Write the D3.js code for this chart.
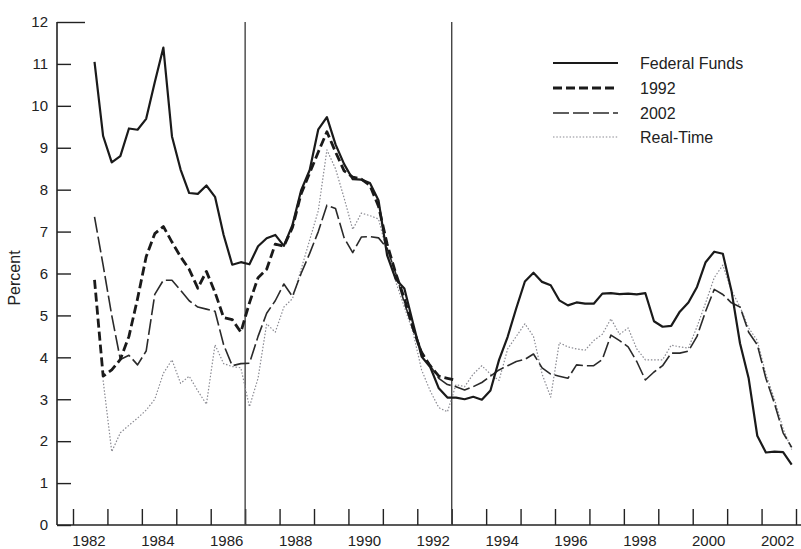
<!DOCTYPE html>
<html>
<head>
<meta charset="utf-8">
<script src="https://cdn.jsdelivr.net/npm/d3@7/dist/d3.min.js"></script>
<style>
  html, body { margin: 0; padding: 0; background: #fff; }
  svg { display: block; }
  text { font-family: "Liberation Sans", Arial, Helvetica, sans-serif; fill: #222; }
</style>
</head>
<body>
<svg id="chart" width="801" height="549"></svg>
<script>
// ---- data (quarterly, 1982Q3 - 2002Q4) ----
const quarters = [
  "1982Q3","1982Q4",
  "1983Q1","1983Q2","1983Q3","1983Q4",
  "1984Q1","1984Q2","1984Q3","1984Q4",
  "1985Q1","1985Q2","1985Q3","1985Q4",
  "1986Q1","1986Q2","1986Q3","1986Q4",
  "1987Q1","1987Q2","1987Q3","1987Q4",
  "1988Q1","1988Q2","1988Q3","1988Q4",
  "1989Q1","1989Q2","1989Q3","1989Q4",
  "1990Q1","1990Q2","1990Q3","1990Q4",
  "1991Q1","1991Q2","1991Q3","1991Q4",
  "1992Q1","1992Q2","1992Q3","1992Q4",
  "1993Q1","1993Q2","1993Q3","1993Q4",
  "1994Q1","1994Q2","1994Q3","1994Q4",
  "1995Q1","1995Q2","1995Q3","1995Q4",
  "1996Q1","1996Q2","1996Q3","1996Q4",
  "1997Q1","1997Q2","1997Q3","1997Q4",
  "1998Q1","1998Q2","1998Q3","1998Q4",
  "1999Q1","1999Q2","1999Q3","1999Q4",
  "2000Q1","2000Q2","2000Q3","2000Q4",
  "2001Q1","2001Q2","2001Q3","2001Q4",
  "2002Q1","2002Q2","2002Q3","2002Q4"
];

const federalFunds = [
  11.05, 9.28,
  8.65, 8.80, 9.46, 9.43,
  9.69, 10.56, 11.39, 9.27,
  8.48, 7.92, 7.90, 8.10,
  7.83, 6.92, 6.21, 6.27,
  6.22, 6.65, 6.84, 6.92,
  6.66, 7.16, 7.98, 8.47,
  9.44, 9.73, 9.08, 8.61,
  8.25, 8.24, 8.16, 7.74,
  6.43, 5.86, 5.64, 4.82,
  4.02, 3.77, 3.26, 3.04,
  3.04, 3.00, 3.06, 2.99,
  3.21, 3.94, 4.49, 5.17,
  5.81, 6.02, 5.80, 5.72,
  5.36, 5.24, 5.31, 5.28,
  5.28, 5.52, 5.53, 5.51,
  5.52, 5.50, 5.53, 4.86,
  4.73, 4.75, 5.09, 5.31,
  5.68, 6.27, 6.52, 6.47,
  5.59, 4.33, 3.50, 2.13,
  1.73, 1.75, 1.74, 1.44
];

const vintage1992 = [
  5.85, 3.55,
  3.70, 3.95, 4.50, 5.40,
  6.40, 6.95, 7.12, 6.75,
  6.40, 6.10, 5.65, 6.05,
  5.55, 4.95, 4.90, 4.60,
  5.30, 5.90, 6.10, 6.70,
  6.65, 7.10, 7.90, 8.40,
  8.90, 9.38, 8.90, 8.45,
  8.30, 8.25, 8.10, 7.60,
  6.70, 6.00, 5.40, 4.70,
  4.10, 3.80, 3.55, 3.50,
  3.45
];

const vintage2002 = [
  7.35, 6.20,
  5.00, 3.95, 4.05, 3.82,
  4.15, 5.50, 5.84, 5.84,
  5.60, 5.35, 5.20, 5.15,
  5.10, 4.30, 3.80, 3.85,
  3.86, 4.50, 5.05, 5.35,
  5.75, 5.45, 6.00, 6.48,
  7.00, 7.63, 7.55, 6.85,
  6.50, 6.87, 6.88, 6.85,
  6.60, 6.00, 5.30, 4.70,
  4.15, 3.80, 3.50, 3.35,
  3.30, 3.22, 3.30, 3.40,
  3.55, 3.70, 3.80, 3.90,
  3.95, 4.08, 3.75, 3.60,
  3.55, 3.50, 3.82, 3.80,
  3.80, 3.95, 4.53, 4.40,
  4.25, 3.90, 3.46, 3.65,
  3.80, 4.10, 4.10, 4.15,
  4.50, 5.10, 5.62, 5.50,
  5.30, 5.20, 4.60, 4.30,
  3.50, 2.90, 2.20, 1.85
];

const realTime = [
  null, 3.45,
  1.75, 2.20, 2.38, 2.55,
  2.74, 3.00, 3.62, 3.94,
  3.38, 3.55, 3.20, 2.88,
  4.30, 3.85, 3.78, 3.75,
  2.82, 3.50, 4.80, 4.60,
  5.20, 5.40, 6.10, 6.80,
  7.50, 8.95, 8.50, 7.80,
  7.05, 7.44, 7.38, 7.30,
  6.50, 5.80, 5.20, 4.60,
  3.70, 3.20, 2.80, 2.70,
  3.35, 3.30, 3.60, 3.80,
  3.60, 3.45, 4.20, 4.50,
  4.80, 4.50, 3.60, 3.05,
  4.35, 4.25, 4.20, 4.17,
  4.40, 4.55, 4.92, 4.55,
  4.70, 4.20, 3.94, 3.94,
  3.94, 4.29, 4.25, 4.22,
  4.73, 5.30, 5.90, 6.20,
  5.60, 5.20, 4.70, 4.40,
  3.60, 3.00, 2.30, 1.80
];

const yearTicks = [1982,1983,1984,1985,1986,1987,1988,1989,1990,1991,1992,
                   1993,1994,1995,1996,1997,1998,1999,2000,2001,2002,2003];
const yearLabels = [1982,1984,1986,1988,1990,1992,1994,1996,1998,2000,2002];
const yTicks = [0,1,2,3,4,5,6,7,8,9,10,11,12];
const breakLines = [1987.0, 1993.0];

const seriesNames = ["Federal Funds", "1992", "2002", "Real-Time"];

// ---- layout ----
const svg = d3.select("#chart");
const x = d3.scaleLinear().domain([1982, 2003]).range([73, 796]);
const y = d3.scaleLinear().domain([0, 12]).range([525, 22]);
const axisLeftX = 57;

const qTime = q => +q.slice(0, 4) + (+q.slice(5) - 0.5) / 4;

// axis lines
svg.append("line").attr("x1", axisLeftX).attr("x2", axisLeftX)
  .attr("y1", y(12)).attr("y2", y(0)).attr("stroke", "#222").attr("stroke-width", 1.6);
svg.append("line").attr("x1", axisLeftX).attr("x2", 801)
  .attr("y1", y(0)).attr("y2", y(0)).attr("stroke", "#222").attr("stroke-width", 1.6);

// y axis
const gy = svg.append("g").attr("transform", `translate(${axisLeftX},0)`)
  .call(d3.axisLeft(y).tickValues(yTicks).tickSize(-14).tickPadding(9).tickFormat(d3.format("d")));
gy.select(".domain").remove();
gy.selectAll(".tick line").attr("stroke", "#222").attr("stroke-width", 1.4);
gy.selectAll(".tick").filter(d => d === 12).select("line").attr("x2", 28);
gy.selectAll(".tick text").style("font-size", "15px").attr("fill", "#222");

// x axis ticks
const gx = svg.append("g").attr("transform", `translate(0,${y(0)})`)
  .call(d3.axisBottom(x).tickValues(yearTicks).tickSize(-16).tickFormat(""));
gx.select(".domain").remove();
gx.selectAll(".tick line").attr("stroke", "#222").attr("stroke-width", 1.4);

// x labels (centred in the year)
const gxl = svg.append("g").attr("transform", `translate(0,${y(0)})`)
  .call(d3.axisBottom(x).tickValues(yearLabels.map(d => d + 0.45)).tickSize(0).tickPadding(10)
    .tickFormat((d, i) => yearLabels[i]));
gxl.select(".domain").remove();
gxl.selectAll(".tick text").style("font-size", "15px").attr("fill", "#222");

// y title
svg.append("text").attr("transform", `translate(20,278) rotate(-90)`)
  .attr("text-anchor", "middle").style("font-size", "16px").text("Percent");

// vertical break lines
svg.selectAll(".vline").data(breakLines).join("line")
  .attr("x1", d => x(d)).attr("x2", d => x(d))
  .attr("y1", y(12)).attr("y2", y(0))
  .attr("stroke", "#444").attr("stroke-width", 1.4);

// series
const styles = [
  { stroke: "#1a1a1a", width: 2.2, dash: null },
  { stroke: "#1a1a1a", width: 2.8, dash: "9,4" },
  { stroke: "#2a2a2a", width: 1.6, dash: "16,4" },
  { stroke: "#8a8a92", width: 1.2, dash: "1.5,1.8" }
];
const allSeries = [federalFunds, vintage1992, vintage2002, realTime];

const line = d3.line()
  .defined(d => d[1] != null)
  .x(d => x(d[0])).y(d => y(d[1]));

const drawOrder = [3, 2, 1, 0];
drawOrder.forEach(k => {
  const vals = allSeries[k];
  const pts = vals.map((v, i) => [qTime(quarters[i]), v]);
  svg.append("path").datum(pts)
    .attr("fill", "none")
    .attr("stroke", styles[k].stroke)
    .attr("stroke-width", styles[k].width)
    .attr("stroke-dasharray", styles[k].dash)
    .attr("stroke-linejoin", "round")
    .attr("d", line);
});

// legend
const legendRows = [63, 88, 113, 137];
const lg = svg.append("g");
seriesNames.forEach((name, k) => {
  lg.append("line").attr("x1", 553).attr("x2", 618)
    .attr("y1", legendRows[k]).attr("y2", legendRows[k])
    .attr("stroke", styles[k].stroke).attr("stroke-width", styles[k].width)
    .attr("stroke-dasharray", styles[k].dash);
  lg.append("text").attr("x", 640).attr("y", legendRows[k]).attr("dy", "0.35em")
    .style("font-size", "16px").text(name);
});
</script>
</body>
</html>
